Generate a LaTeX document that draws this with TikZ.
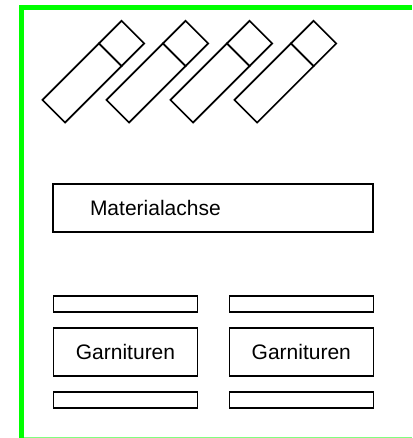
\documentclass[tikz,border=0pt]{standalone}
\usepackage{fontspec}
\setmainfont{Liberation Sans}
\begin{document}
\begin{tikzpicture}[x=1pt,y=-1pt,
    every node/.style={draw,line width=1.6pt,inner sep=0pt,outer sep=0pt,
      font=\fontsize{21}{25}\selectfont},
    tube/.style={rotate=45,minimum width=80pt,minimum height=32pt},
    tubecap/.style={rotate=45,minimum width=32pt,minimum height=32pt,anchor=west},
    axisbox/.style={minimum height=48pt,text width=246pt,inner xsep=37pt,align=left},
    setbox/.style={minimum width=144pt,minimum height=48pt},
    rail/.style={minimum width=144pt,minimum height=16pt}]
  \useasboundingbox (0,0) rectangle (412,438);
  % frame
  \draw[green,line width=4.7pt] (21.7,438) -- (21.7,7.5) -- (412,7.5);
  \draw[green!50,line width=1pt] (24,437.5) -- (412,437.5);
  % tubes
  \node[tube] (t1) at (82,83) {};
  \node[tubecap] (c1) at (t1.east) {};
  \node[tube] (t2) at (146,83) {};
  \node[tubecap] (c2) at (t2.east) {};
  \node[tube] (t3) at (210,83) {};
  \node[tubecap] (c3) at (t3.east) {};
  \node[tube] (t4) at (274,83) {};
  \node[tubecap] (c4) at (t4.east) {};
  % material axis
  \node[axisbox] (axis) at (213,208) {Materialachse};
  % sets
  \node[rail] (r1) at (125.5,304) {};
  \node[setbox] (g1) at (125.5,352) {Garnituren};
  \node[rail] (r2) at (125.5,400) {};
  \node[rail] (r3) at (301.3,304) {};
  \node[setbox] (g2) at (301.3,352) {Garnituren};
  \node[rail] (r4) at (301.3,400) {};
\end{tikzpicture}
\end{document}
